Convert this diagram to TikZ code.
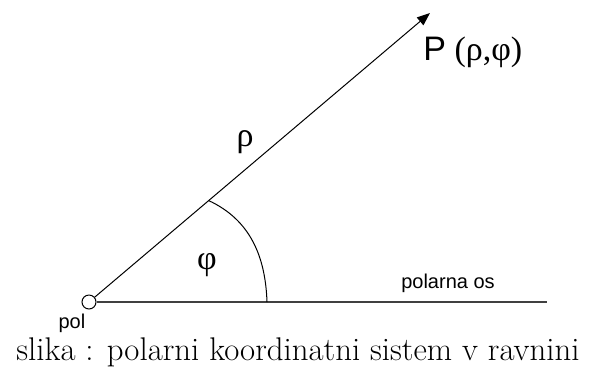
\documentclass[tikz,border=0pt]{standalone}
\usepackage{amsmath,amssymb}
\usepackage{fontspec}
\newfontfamily\arialfont{Liberation Sans}
\newfontfamily\greekfont{Liberation Serif}
\usepackage{tikz}
\usetikzlibrary{arrows.meta,positioning,calc}
\tikzset{
  pole/.style={circle,draw,fill=white,minimum size=7pt,inner sep=0pt,line width=0.5pt},
  arr/.style={-{Triangle[length=6.5pt,width=5pt]},line width=0.5pt},
  axis/.style={line width=0.6pt,black!75},
  lbl/.style={font=\arialfont\fontsize{10}{12}\selectfont,inner sep=0pt},
  sym/.style={font=\greekfont\fontsize{17}{20}\selectfont,inner sep=0pt},
  captxt/.style={font=\fontsize{16.4}{20}\selectfont,inner sep=0pt,anchor=base},
}

\begin{document}
\begin{tikzpicture}[x=1pt,y=1pt]
\useasboundingbox (0,0) rectangle (296.5,186);
% pole, ray and axis
\node[pole] (O) at (44.5,35) {};
\coordinate (tip) at (215,179.5);
\coordinate (end) at (273.5,35);
\draw[arr] (O) -- (tip);
\draw[axis] (O) -- (end);
% angle
\coordinate (A) at ($(O.center)!0.351!(tip)$);
\coordinate (B) at (133.5,35);
\draw[line width=0.5pt] (A) to[out=-25,in=92] (B);
% labels
\node[sym] (rho) at (122.5,115) {ρ};
\node[sym] (phi) at (103.5,53.5) {φ};
\node[sym,anchor=base west] (Plbl) at (211.5,156) {{\arialfont P} (ρ,φ)};
\node[lbl,below left=3pt and -1pt of O] (pol) {pol};
\node[lbl] (os) at (224,44.5) {polarna os};
\node[captxt] (caption) at (149,6) {slika : polarni koordinatni sistem v ravnini};
\end{tikzpicture}
\end{document}
